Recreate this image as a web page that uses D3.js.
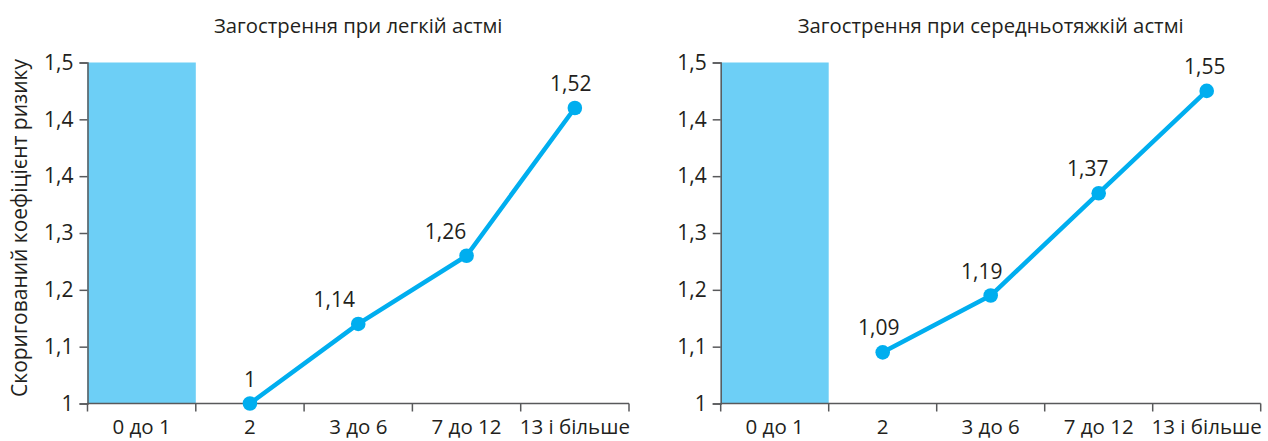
<!DOCTYPE html>
<html>
<head>
<meta charset="utf-8">
<script src="https://cdn.jsdelivr.net/npm/d3@7"></script>
<style>
  html, body { margin: 0; padding: 0; background: #fff; }
  svg { display: block; }
  text { font-family: "Open Sans", "Noto Sans", sans-serif; fill: #231f20; }
</style>
</head>
<body>
<svg id="chart" width="1268" height="441"></svg>
<script>
// ---- data ----
const categories = ["0 до 1", "2", "3 до 6", "7 до 12", "13 і більше"];
const referenceCategory = "0 до 1";
const titles = ["Загострення при легкій астмі", "Загострення при середньотяжкій астмі"];
const yAxisTitle = "Скоригований коефіцієнт ризику";
const mildCategories = ["2", "3 до 6", "7 до 12", "13 і більше"];
const mildValues = [1, 1.14, 1.26, 1.52];
const mildLabels = ["1", "1,14", "1,26", "1,52"];
const moderateCategories = ["2", "3 до 6", "7 до 12", "13 і більше"];
const moderateValues = [1.09, 1.19, 1.37, 1.55];
const moderateLabels = ["1,09", "1,19", "1,37", "1,55"];
const yTickValues = [1, 1.1, 1.2, 1.3, 1.4, 1.5, 1.6];
const yTickLabels = ["1", "1,1", "1,2", "1,3", "1,4", "1,4", "1,5"];
const yDomain = [1, 1.6];

// ---- layout ----
const svg = d3.select("#chart");
const lineColor = "#00aeef";
const barColor = "#6dcff6";
const axisColor = "#58595b";
const textColor = "#231f20";

const panels = [
  { x0: 87.5, x1: 629, title: titles[0], cats: mildCategories, vals: mildValues, labels: mildLabels,
    labelDx: [0, -24, -21, -4] },
  { x0: 720.7, x1: 1260.7, title: titles[1], cats: moderateCategories, vals: moderateValues, labels: moderateLabels,
    labelDx: [-4, -9, -11, -2] }
];

const y = d3.scaleLinear().domain(yDomain).range([403.5, 62.5]);

panels.forEach((p) => {
  const x = d3.scaleBand().domain(categories).range([p.x0, p.x1]).padding(0);
  const g = svg.append("g");

  // reference bar
  g.append("rect")
    .attr("x", x(referenceCategory))
    .attr("y", y(yDomain[1]))
    .attr("width", x.bandwidth())
    .attr("height", y(yDomain[0]) - y(yDomain[1]))
    .attr("fill", barColor);

  // y axis
  const yAxis = d3.axisLeft(y)
    .tickValues(yTickValues)
    .tickFormat((d, i) => yTickLabels[i])
    .tickSize(8).tickPadding(6);
  const ya = g.append("g").attr("transform", `translate(${p.x0},0)`).call(yAxis);
  ya.attr("font-family", null).attr("font-size", null);
  ya.select(".domain").attr("stroke", axisColor).attr("stroke-width", 1.5);
  ya.selectAll(".tick line").attr("stroke", axisColor).attr("stroke-width", 1.5);
  ya.selectAll(".tick text").style("font-size", "21px").attr("fill", textColor);

  // x axis (ticks at band edges)
  const edges = categories.map(c => x(c)).concat([p.x1]);
  const xa = g.append("g");
  xa.append("line").attr("x1", p.x0).attr("x2", p.x1)
    .attr("y1", y(yDomain[0])).attr("y2", y(yDomain[0]))
    .attr("stroke", axisColor).attr("stroke-width", 1.5);
  xa.selectAll("line.tk").data(edges).enter().append("line").attr("class", "tk")
    .attr("x1", d => d).attr("x2", d => d)
    .attr("y1", y(yDomain[0])).attr("y2", y(yDomain[0]) + 8)
    .attr("stroke", axisColor).attr("stroke-width", 1.5);
  xa.selectAll("text").data(categories).enter().append("text")
    .attr("x", d => x(d) + x.bandwidth() / 2)
    .attr("y", 434)
    .attr("text-anchor", "middle")
    .style("font-size", "20.5px")
    .text(d => d);

  // title
  g.append("text")
    .attr("x", (p.x0 + p.x1) / 2)
    .attr("y", 33)
    .attr("text-anchor", "middle")
    .style("font-size", "20.3px")
    .text(p.title);

  // line
  const pts = p.cats.map((c, i) => ({ c, v: p.vals[i], l: p.labels[i], dx: p.labelDx[i] }));
  const line = d3.line().x(d => x(d.c) + x.bandwidth() / 2).y(d => y(d.v));
  g.append("path").datum(pts)
    .attr("d", line)
    .attr("fill", "none")
    .attr("stroke", lineColor)
    .attr("stroke-width", 4.5)
    .attr("stroke-linejoin", "round");
  g.selectAll("circle").data(pts).enter().append("circle")
    .attr("cx", d => x(d.c) + x.bandwidth() / 2)
    .attr("cy", d => y(d.v))
    .attr("r", 7.3)
    .attr("fill", lineColor);
  g.selectAll("text.lbl").data(pts).enter().append("text").attr("class", "lbl")
    .attr("x", d => x(d.c) + x.bandwidth() / 2 + d.dx)
    .attr("y", d => y(d.v) - 17)
    .attr("text-anchor", "middle")
    .style("font-size", "21px")
    .text(d => d.l);
});

// y axis title
svg.append("text")
  .attr("transform", "translate(27,228) rotate(-90)")
  .attr("text-anchor", "middle")
  .style("font-size", "21px")
  .text(yAxisTitle);
</script>
</body>
</html>
